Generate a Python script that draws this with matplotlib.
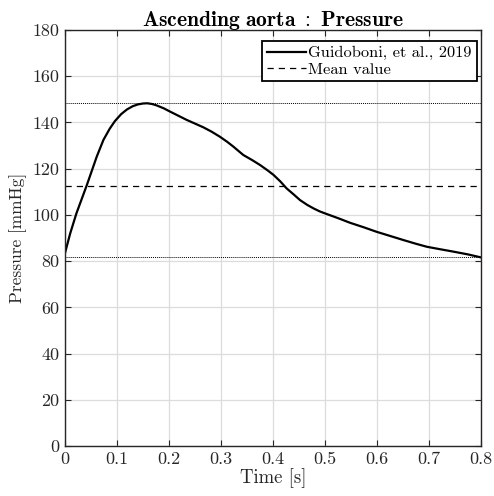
import matplotlib
matplotlib.use("Agg")
import matplotlib.pyplot as plt
import numpy as np

plt.rcParams['font.family'] = 'serif'
plt.rcParams['font.serif'] = ['cmr10']
plt.rcParams['mathtext.fontset'] = 'cm'
plt.rcParams['axes.formatter.use_mathtext'] = True

time_s = [0.0, 0.010, 0.022, 0.042, 0.061, 0.074, 0.086, 0.096, 0.108, 0.119, 0.130,
          0.140, 0.150, 0.158, 0.167, 0.176, 0.190, 0.202, 0.218,
          0.234, 0.250, 0.266, 0.282, 0.298, 0.312, 0.324, 0.335, 0.343, 0.360, 0.375,
          0.390, 0.401, 0.414, 0.426, 0.440, 0.452, 0.466, 0.478, 0.490,
          0.503, 0.525, 0.548, 0.575, 0.599, 0.625, 0.651, 0.675, 0.696, 0.720, 0.747,
          0.775, 0.800]
pressure = [83.5, 92.0, 100.7, 112.9, 125.2, 132.5, 137.3, 140.6, 143.6, 145.6, 147.0,
            147.8, 148.2, 148.3, 148.0, 147.4, 146.1, 144.7, 142.9,
            141.1, 139.5, 137.9, 136.0, 133.8, 131.6, 129.5, 127.4, 125.9, 123.7, 121.6,
            119.2, 117.3, 114.5, 111.5, 108.8, 106.4, 104.3, 102.8, 101.5,
            100.4, 98.6, 96.6, 94.6, 92.7, 90.9, 89.1, 87.5, 86.2, 85.2, 84.1,
            82.9, 81.6]
mean_value = 112.6
max_value = max(pressure)
min_value = min(pressure)

xticks = [0, 0.1, 0.2, 0.3, 0.4, 0.5, 0.6, 0.7, 0.8]
yticks = [0, 20, 40, 60, 80, 100, 120, 140, 160, 180]

fig = plt.figure(figsize=(4.94, 4.96), dpi=100)
ax = fig.add_axes([0.1316, 0.1008, 0.8421, 0.8387])

ax.plot(time_s, pressure, color='black', lw=1.6, label='Guidoboni, et al., 2019')
ax.axhline(mean_value, color='black', lw=0.9, ls=(0, (5, 4)), label='Mean value')
ax.axhline(max_value, color='black', lw=0.7, ls=(0, (1, 1)))
ax.axhline(min_value, color='black', lw=0.7, ls=(0, (1, 1)))

ax.set_xlim(0, 0.8)
ax.set_ylim(0, 180)
ax.set_xticks(xticks)
ax.set_yticks(yticks)
ax.set_xticklabels(['0' if v == 0 else f'{v:.1f}' for v in xticks])
ax.set_yticklabels([str(v) for v in yticks])
ax.tick_params(direction='in', top=True, right=True, length=4, width=0.8,
               labelsize=13, colors='#262626', pad=4)
ax.grid(True, color='#dcdcdc', lw=0.9)
ax.set_axisbelow(True)
for s in ax.spines.values():
    s.set_linewidth(1.0)
    s.set_color('#262626')

ax.set_xlabel('Time [s]', fontsize=13.5, labelpad=1, color='#262626')
ax.set_ylabel('Pressure [mmHg]', fontsize=12.5, labelpad=4, color='#262626')
ax.set_title(r'$\mathbf{Ascending\ aorta\ {:}\ Pressure}$', fontsize=15.5, pad=3)

leg = ax.legend(loc='upper right', bbox_to_anchor=(0.990, 0.9736), fontsize=11.8,
                fancybox=False, framealpha=1, edgecolor='black', handlelength=2.4,
                borderpad=0.3, labelspacing=0.1, handletextpad=0.15, borderaxespad=0)
leg.get_frame().set_linewidth(1.3)

fig.savefig('out.png', dpi=100)
